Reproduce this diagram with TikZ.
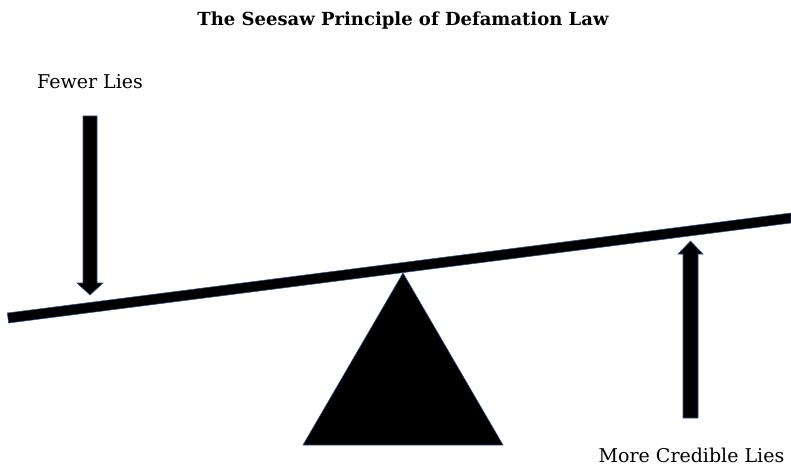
\documentclass[tikz,border=0pt]{standalone}
\usepackage{fontspec}
\setmainfont{DejaVu Serif}
\usetikzlibrary{calc}
\definecolor{edgeblue}{HTML}{2F528F}
\begin{document}
\begin{tikzpicture}[x=1pt,y=-1pt,
  solid shape/.style={fill=black, draw=edgeblue, line width=0.6pt, line join=miter},
  label text/.style={font=\fontsize{19}{22}\selectfont, inner sep=0pt},
  title text/.style={font=\fontsize{18}{21}\selectfont\bfseries, inner sep=0pt}]
\useasboundingbox (0,0) rectangle (791,465);
% beam
\path[solid shape] (7.4,313) -- (791,213) -- (791,223) -- (8.6,323) -- cycle;
% fulcrum
\path[solid shape] (403,273) -- (503,445) -- (303,445) -- cycle;
% left arrow (down)
\path[solid shape] (83,116) -- (97,116) -- (97,283) -- (103,283) -- (90,295) -- (77,283) -- (83,283) -- cycle;
% right arrow (up)
\path[solid shape] (683,418) -- (698,418) -- (698,254) -- (703,254) -- (690.5,241) -- (678,254) -- (683,254) -- cycle;
% texts
\node[title text, anchor=base] (title) at (403,26) {The Seesaw Principle of Defamation Law};
\node[label text, anchor=base] (fewer) at (90,89) {Fewer Lies};
\node[label text, anchor=base] (more) at (691.5,462) {More Credible Lies};
\end{tikzpicture}
\end{document}
